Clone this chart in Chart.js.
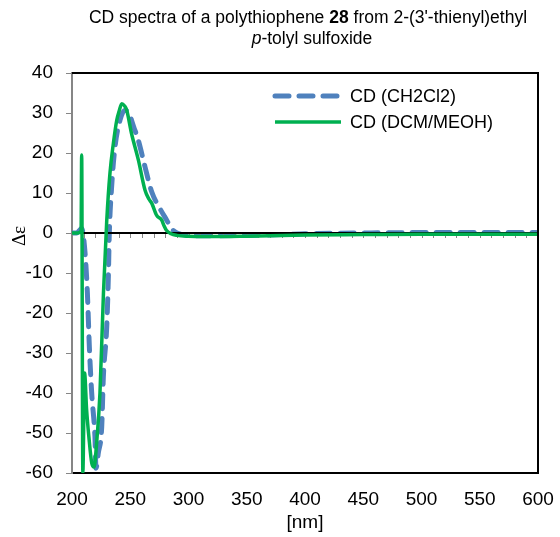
<!DOCTYPE html>
<html>
<head>
<meta charset="utf-8">
<script src="https://cdn.jsdelivr.net/npm/chart.js@4.4.1/dist/chart.umd.min.js"></script>
<style>
  html, body { margin: 0; padding: 0; background: #fff; }
  #wrap { width: 560px; height: 537px; }
</style>
</head>
<body>
<div id="wrap"><canvas id="myChart"></canvas></div>
<script>
// series labels
const seriesNames = ['CD (CH2Cl2)', 'CD (DCM/MEOH)'];

// CD (CH2Cl2): wavelength [nm] and delta epsilon
const nmCH2Cl2 = [200, 204, 208.3, 211.2, 213.2, 214.9, 216.9, 219.7, 220.6, 222.6, 225.5, 226.9, 229.8, 231.2, 232, 234, 236.9, 241.2, 245.5, 249, 253, 256.9, 262.7, 268.4, 275.5, 281.3, 285.5, 290, 295, 300, 320, 350, 380, 400, 450, 500, 550, 600];
const cdCH2Cl2 = [0, 0, 1.1, -5, -15, -28.5, -40, -51, -58.8, -55, -48.5, -36, -23.5, -11, -0.2, 11.5, 21.5, 28.2, 30.7, 29.8, 26.5, 23.2, 16.5, 10.3, 6.1, 3.2, 1.1, 0, -0.4, -0.6, -0.7, -0.6, -0.4, -0.2, 0, 0.1, 0.1, 0.1];

// CD (DCM/MEOH)
const nmDcmMeoh = [200, 205, 207.8, 208.3, 209.3, 210.8, 212.5, 214.5, 217, 219, 221, 224, 227, 229.8, 232.6, 235.5, 238.4, 240.5, 242.7, 245, 247, 251, 257, 262.7, 266, 268.5, 272.7, 277, 279, 281, 285, 290, 300, 330, 350, 400, 450, 500, 550, 600];
const cdDcmMeoh = [0, 0, 0.5, 19.5, -60, -35, -44, -51, -57.6, -58.5, -53, -40, -15, 3, 15, 22.4, 28.2, 30.5, 32.3, 31.8, 30.7, 25, 18.2, 10.7, 8.5, 7.4, 4.4, 3.2, 1.8, 0.7, -0.2, -0.6, -0.8, -0.9, -0.8, -0.5, -0.4, -0.3, -0.3, -0.3];

// tick labels
const xTicks = [200, 250, 300, 350, 400, 450, 500, 550, 600];
const yTicks = [-60, -50, -40, -30, -20, -10, 0, 10, 20, 30, 40];
const xMinorTicks = [];
for (let v = 200; v <= 600; v += 10) xMinorTicks.push(v);

// title pieces (plain / bold / italic)
const titleLine1 = [['CD spectra of a polythiophene ', ''], ['28', 'bold '], [" from 2-(3'-thienyl)ethyl", '']];
const titleLine2 = [['p', 'italic '], ['-tolyl sulfoxide', '']];
const yTitle = '\u0394\u03b5';
const xTitle = '[nm]';

const FONT = '"Liberation Sans", Arial, sans-serif';
const BLUE = '#4f81bd';
const GREEN = '#00b050';

function toPoints(xs, ys) {
  return xs.map((v, i) => ({ x: v, y: ys[i] }));
}

function drawRuns(ctx, runs, cx, cy, size) {
  let total = 0;
  runs.forEach(r => { ctx.font = r[1] + size + 'px ' + FONT; total += ctx.measureText(r[0]).width; });
  let x = cx - total / 2;
  runs.forEach(r => {
    ctx.font = r[1] + size + 'px ' + FONT;
    ctx.fillText(r[0], x, cy);
    x += ctx.measureText(r[0]).width;
  });
}

const decoPlugin = {
  id: 'deco',
  afterDatasetDraw(chart, args) {
    if (args.index !== 0) return;
    // horizontal axis line at zero with minor ticks
    const { ctx, chartArea: a, scales: { x, y } } = chart;
    const y0 = y.getPixelForValue(0);
    ctx.save();
    ctx.strokeStyle = '#868686';
    ctx.lineWidth = 1;
    xMinorTicks.forEach(v => {
      const px = Math.round(x.getPixelForValue(v)) + 0.5;
      ctx.beginPath(); ctx.moveTo(px, y0); ctx.lineTo(px, y0 + 5); ctx.stroke();
    });
    ctx.strokeStyle = '#000';
    ctx.lineWidth = 2;
    ctx.beginPath(); ctx.moveTo(a.left, y0); ctx.lineTo(a.right, y0); ctx.stroke();
    ctx.restore();
  },
  afterDraw(chart) {
    const { ctx, chartArea: a, scales: { y } } = chart;
    ctx.save();
    // frame top and right
    ctx.strokeStyle = '#000';
    ctx.lineWidth = 2;
    ctx.beginPath();
    ctx.moveTo(a.left, a.top); ctx.lineTo(a.right, a.top); ctx.lineTo(a.right, a.bottom);
    ctx.stroke();

    // title
    ctx.fillStyle = '#000';
    ctx.textBaseline = 'middle';
    drawRuns(ctx, titleLine1, 308, 18, 17.5);
    drawRuns(ctx, titleLine2, 312, 39, 17.5);

    // y axis title
    ctx.save();
    ctx.translate(20.5, y.getPixelForValue(0) + 3);
    ctx.rotate(-Math.PI / 2);
    ctx.textAlign = 'center';
    ctx.font = '19px "Liberation Serif", "Times New Roman", serif';
    ctx.fillText(yTitle, 0, 0);
    ctx.restore();

    // legend
    const ds = chart.data.datasets;
    const rows = [96, 122];
    ds.forEach((d, i) => {
      ctx.save();
      ctx.strokeStyle = d.borderColor;
      ctx.lineWidth = d.borderWidth;
      ctx.lineCap = d.borderCapStyle || 'butt';
      ctx.setLineDash(d.borderDash || []);
      ctx.beginPath(); ctx.moveTo(275, rows[i]); ctx.lineTo(341, rows[i]); ctx.stroke();
      ctx.restore();
      ctx.font = '18px ' + FONT;
      ctx.textAlign = 'left';
      ctx.fillText(d.label, 350, rows[i] + 1);
    });
    ctx.restore();
  }
};

new Chart(document.getElementById('myChart'), {
  type: 'line',
  data: {
    datasets: [{
      label: seriesNames[0],
      data: toPoints(nmCH2Cl2, cdCH2Cl2),
      borderColor: BLUE,
      borderWidth: 5,
      borderDash: [14, 10],
      borderCapStyle: 'round',
      borderJoinStyle: 'round',
      pointRadius: 0,
      cubicInterpolationMode: 'monotone',
      order: 2
    }, {
      label: seriesNames[1],
      data: toPoints(nmDcmMeoh, cdDcmMeoh),
      borderColor: GREEN,
      borderWidth: 3.5,
      borderJoinStyle: 'round',
      pointRadius: 0,
      cubicInterpolationMode: 'monotone',
      order: 1
    }]
  },
  options: {
    responsive: true,
    maintainAspectRatio: false,
    animation: false,
    layout: { padding: { top: 73, right: 22, left: 0, bottom: 0 } },
    plugins: { legend: { display: false }, title: { display: false }, tooltip: { enabled: false } },
    scales: {
      x: {
        type: 'linear', min: 200, max: 600,
        afterBuildTicks: s => { s.ticks = xTicks.map(v => ({ value: v })); },
        afterFit: s => { s.height = 64; },
        grid: { display: false, drawTicks: true, tickLength: 15 },
        border: { display: true, color: '#000', width: 2 },
        ticks: { color: '#000', font: { family: FONT, size: 19 }, padding: 0, maxRotation: 0, autoSkip: false },
        title: { display: true, text: xTitle, color: '#000', font: { family: FONT, size: 19 }, padding: { top: 0, bottom: 3 } }
      },
      y: {
        min: -60, max: 40,
        afterBuildTicks: s => { s.ticks = yTicks.map(v => ({ value: v })); },
        afterFit: s => { s.width = 72; },
        grid: { drawOnChartArea: false, drawTicks: true, tickLength: 6, color: '#868686', lineWidth: 1 },
        border: { color: '#868686', width: 2 },
        ticks: { color: '#000', font: { family: FONT, size: 19 }, padding: 13 }
      }
    }
  },
  plugins: [decoPlugin]
});
</script>
</body>
</html>
